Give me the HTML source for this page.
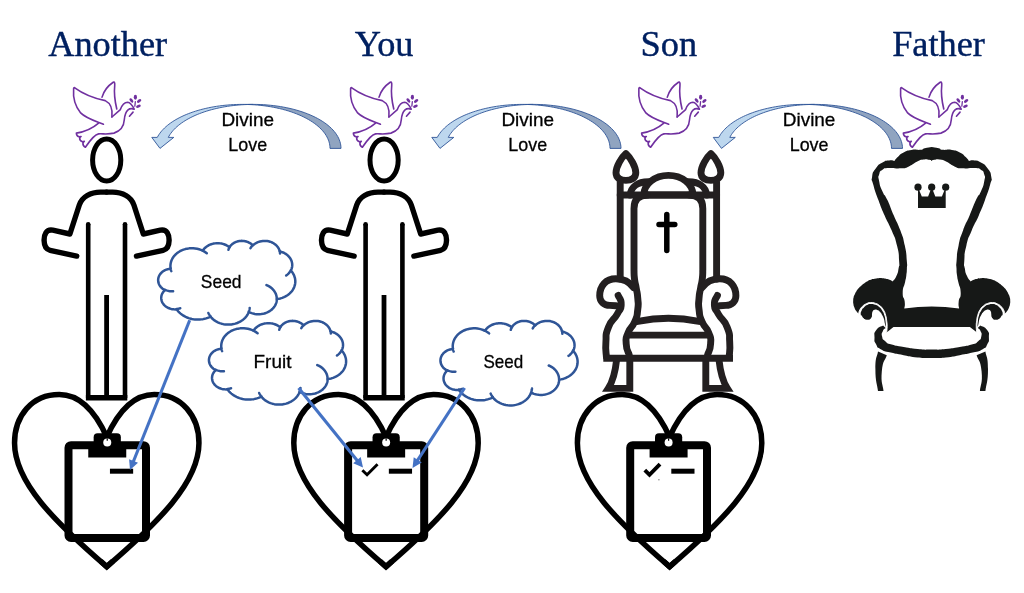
<!DOCTYPE html>
<html><head><meta charset="utf-8"><title>Divine Love</title>
<style>
html,body{margin:0;padding:0;background:#fff;}
body{width:1024px;height:593px;overflow:hidden;}
svg{display:block;}
</style></head><body>
<svg width="1024" height="593" viewBox="0 0 1024 593" style="will-change:transform">
<rect width="1024" height="593" fill="#fff"/>
<g fill="none" stroke="#000000" stroke-width="5.4" stroke-linecap="round" stroke-linejoin="round">
<ellipse cx="106.69999999999999" cy="160" rx="14.1" ry="21.1" stroke-width="5"/>
<path d="M106.6,192.1 H112.6 C122.6,192.1 131.2,196.8 133.9,205 L143.3,234 L160.39999999999998,230.2 C167.1,229 169.2,234.5 169.1,240.5 C169.0,246 167.1,249.4 163.1,250.3 L136.5,256.1"/>
<path d="M106.6,192.1 H100.6 C90.6,192.1 82.0,196.8 79.3,205 L69.89999999999999,234 L52.8,230.2 C46.099999999999994,229 43.99999999999999,234.5 44.099999999999994,240.5 C44.199999999999996,246 46.099999999999994,249.4 50.099999999999994,250.3 L76.69999999999999,256.1"/>
</g>
<g fill="none" stroke="#000000" stroke-width="4.6" stroke-linecap="butt">
<path d="M88.19999999999999,224 V398 M125.0,224 V398"/>
<path d="M88.19999999999999,224.2 v0.1 M125.0,224.2 v0.1" stroke-linecap="round"/>
<path d="M106.6,295 V398" stroke-width="4.8"/>
<path d="M85.89999999999999,397.8 H127.3" stroke-width="5.4"/>
</g>
<g fill="none" stroke="#000000" stroke-width="5.4" stroke-linecap="round" stroke-linejoin="round">
<ellipse cx="384.1" cy="160" rx="14.1" ry="21.1" stroke-width="5"/>
<path d="M384.0,192.1 H390.0 C400.0,192.1 408.6,196.8 411.3,205 L420.7,234 L437.8,230.2 C444.5,229 446.6,234.5 446.5,240.5 C446.4,246 444.5,249.4 440.5,250.3 L413.9,256.1"/>
<path d="M384.0,192.1 H378.0 C368.0,192.1 359.4,196.8 356.7,205 L347.3,234 L330.2,230.2 C323.5,229 321.4,234.5 321.5,240.5 C321.6,246 323.5,249.4 327.5,250.3 L354.1,256.1"/>
</g>
<g fill="none" stroke="#000000" stroke-width="4.6" stroke-linecap="butt">
<path d="M365.6,224 V398 M402.4,224 V398"/>
<path d="M365.6,224.2 v0.1 M402.4,224.2 v0.1" stroke-linecap="round"/>
<path d="M384.0,295 V398" stroke-width="4.8"/>
<path d="M363.3,397.8 H404.7" stroke-width="5.4"/>
</g>
<path d="M106.75,437 C115.75,417 130.75,394.5 154.25,394.5 C181.75,394.5 198.95,416 198.95,443 C198.95,482 158.75,522 106.75,566.7 M106.75,437 C97.75,417 82.75,394.5 59.25,394.5 C31.75,394.5 14.549999999999997,416 14.549999999999997,443 C14.549999999999997,482 54.75,522 106.75,566.7" fill="none" stroke="#000000" stroke-width="5.5" stroke-linejoin="miter" stroke-linecap="round"/>
<path d="M100.75,561.2 L106.75,566.7 L112.75,561.2" fill="none" stroke="#000000" stroke-width="5.5" stroke-linejoin="miter" stroke-miterlimit="10"/>
<path d="M386.0,437 C395.0,417 410.0,394.5 433.5,394.5 C461.0,394.5 478.2,416 478.2,443 C478.2,482 438.0,522 386.0,566.7 M386.0,437 C377.0,417 362.0,394.5 338.5,394.5 C311.0,394.5 293.8,416 293.8,443 C293.8,482 334.0,522 386.0,566.7" fill="none" stroke="#000000" stroke-width="5.5" stroke-linejoin="miter" stroke-linecap="round"/>
<path d="M380.0,561.2 L386.0,566.7 L392.0,561.2" fill="none" stroke="#000000" stroke-width="5.5" stroke-linejoin="miter" stroke-miterlimit="10"/>
<path d="M669.6,437 C678.6,417 693.6,394.5 717.1,394.5 C744.6,394.5 761.8000000000001,416 761.8000000000001,443 C761.8000000000001,482 721.6,522 669.6,566.7 M669.6,437 C660.6,417 645.6,394.5 622.1,394.5 C594.6,394.5 577.4,416 577.4,443 C577.4,482 617.6,522 669.6,566.7" fill="none" stroke="#000000" stroke-width="5.5" stroke-linejoin="miter" stroke-linecap="round"/>
<path d="M663.6,561.2 L669.6,566.7 L675.6,561.2" fill="none" stroke="#000000" stroke-width="5.5" stroke-linejoin="miter" stroke-miterlimit="10"/>
<g fill="none" stroke="#231f20" stroke-width="6.9" stroke-linejoin="round" stroke-linecap="round">
<path d="M630.1,195 C630.9,187 637.4,181.8 648.4,181.8 H688.4 C699.4,181.8 705.9,187 706.6999999999999,195"/>
<path d="M643.8,195 A24.6 19.6 0 0 1 693.0,195 Z" fill="#fff"/>
<path d="M620.1999999999999,195 H716.6"/>
<path d="M625.9,153.6 C630.4,157.5 635.8,166.5 635.8,172.8 C635.8,178.2 631.4,180.4 625.9,180.4 C620.4,180.4 616.0,178.2 616.0,172.8 C616.0,166.5 621.4,157.5 625.9,153.6 Z"/>
<path d="M620.1999999999999,182 V279"/>
<path d="M647.40,195 Q634.00,195 634.00,208.5 V270 L634.00,270.00 C634.17,273.00 633.77,273.00 634.50,279.00 C635.23,285.00 635.10,281.50 636.20,288.00 C637.30,294.50 637.30,291.17 637.80,298.50 C638.30,305.83 638.70,302.33 637.70,310.00 C636.70,317.67 637.97,313.97 634.80,321.50 C631.63,329.03 631.07,325.17 628.20,332.60 C625.33,340.03 625.87,336.33 626.20,343.80 C626.53,351.27 628.20,351.27 629.20,355.00 "/>
<path d="M633.40,287.5 C628.80,281 622.80,278.8 615.80,278.8 C605.80,278.8 599.70,286 599.70,295.8 C599.70,301.5 603.80,305.4 609.80,305.4 L615.80,305.8"/>
<path d="M618.10,295.40 C619.13,298.47 621.50,298.37 621.20,304.60 C620.90,310.83 621.43,306.60 617.20,314.10 C612.97,321.60 612.27,317.83 608.50,327.10 C604.73,336.37 606.60,331.93 605.90,341.90 C605.20,351.87 606.23,351.97 606.40,357.00 "/>
<path d="M629.80,358.2 V388.4 H608.30 C612.40,382 615.20,373 616.60,360" stroke-linejoin="miter"/>
<path d="M710.9,153.6 C715.4,157.5 720.8,166.5 720.8,172.8 C720.8,178.2 716.4,180.4 710.9,180.4 C705.4,180.4 701.0,178.2 701.0,172.8 C701.0,166.5 706.4,157.5 710.9,153.6 Z"/>
<path d="M716.6,182 V279"/>
<path d="M689.40,195 Q702.80,195 702.80,208.5 V270 L702.80,270.00 C702.63,273.00 703.03,273.00 702.30,279.00 C701.57,285.00 701.70,281.50 700.60,288.00 C699.50,294.50 699.50,291.17 699.00,298.50 C698.50,305.83 698.10,302.33 699.10,310.00 C700.10,317.67 698.83,313.97 702.00,321.50 C705.17,329.03 705.73,325.17 708.60,332.60 C711.47,340.03 710.93,336.33 710.60,343.80 C710.27,351.27 708.60,351.27 707.60,355.00 "/>
<path d="M702.20,287.5 C706.80,281 712.80,278.8 719.80,278.8 C729.80,278.8 735.90,286 735.90,295.8 C735.90,301.5 731.80,305.4 725.80,305.4 L719.80,305.8"/>
<path d="M717.50,295.40 C716.47,298.47 714.10,298.37 714.40,304.60 C714.70,310.83 714.17,306.60 718.40,314.10 C722.63,321.60 723.33,317.83 727.10,327.10 C730.87,336.37 729.00,331.93 729.70,341.90 C730.40,351.87 729.37,351.97 729.20,357.00 "/>
<path d="M705.80,358.2 V388.4 H727.30 C723.20,382 720.40,373 719.00,360" stroke-linejoin="miter"/>
<path d="M637.8,321.4 Q668.4,315.2 699.0,321.4"/>
<path d="M628.6,335.1 H708.1999999999999"/>
<path d="M603.3,358.2 H733.0" stroke-linecap="butt"/>
</g>
<path d="M666.8,214.6 V250.5 M659.0,224.4 H674.8" fill="none" stroke="#000" stroke-width="5.5" stroke-linecap="round"/>
<path d="M931.70,146.90 L931.70,146.90 C934.03,147.33 935.07,147.23 938.70,148.20 C942.33,149.17 938.20,149.23 942.60,149.80 C947.00,150.37 946.17,149.00 951.90,149.90 C957.63,150.80 955.20,150.10 959.80,152.50 C964.40,154.90 962.63,154.23 965.70,157.10 C968.77,159.97 967.90,159.77 969.00,161.10 L969.00,161.10 C970.77,160.87 970.33,159.97 974.30,160.40 C978.27,160.83 976.50,159.77 980.90,162.40 C985.30,165.03 984.03,163.47 987.50,168.30 C990.97,173.13 990.43,171.40 991.30,176.90 C992.17,182.40 992.20,177.10 990.10,184.80 C988.00,192.50 988.73,189.87 985.00,200.00 C981.27,210.13 983.30,205.10 978.90,215.20 C974.50,225.30 975.97,220.20 971.80,230.30 C967.63,240.40 968.90,235.37 966.40,245.50 C963.90,255.63 964.83,253.10 964.30,260.70 C963.77,268.30 963.93,263.27 964.80,268.30 C965.67,273.33 964.97,271.43 966.90,275.80 C968.83,280.17 969.37,279.53 970.60,281.40 L970.60,281.40 C971.70,280.87 971.60,280.67 973.90,279.80 C976.20,278.93 975.07,279.30 977.50,278.80 C979.93,278.30 978.70,278.50 981.20,278.30 C983.70,278.10 982.43,278.03 985.00,278.20 C987.57,278.37 986.37,278.27 988.90,278.80 C991.43,279.33 990.30,279.00 992.60,279.80 C994.90,280.60 993.77,280.17 995.80,281.20 C997.83,282.23 996.67,281.50 998.70,282.90 C1000.73,284.30 999.87,283.63 1001.90,285.40 C1003.93,287.17 1003.10,286.27 1004.80,288.20 C1006.50,290.13 1005.73,289.17 1007.00,291.20 C1008.27,293.23 1007.67,292.23 1008.60,294.30 C1009.53,296.37 1009.27,295.37 1009.80,297.40 C1010.33,299.43 1010.13,298.20 1010.20,300.40 C1010.27,302.60 1010.37,301.73 1010.00,304.00 C1009.63,306.27 1010.00,304.93 1009.10,307.20 C1008.20,309.47 1008.73,308.63 1007.30,310.80 C1005.87,312.97 1005.63,312.73 1004.80,313.70 L1004.80,313.70 C1004.39,312.40 1004.83,312.23 1003.56,309.80 C1002.29,307.37 1003.10,308.40 1000.98,306.40 C998.86,304.40 999.97,305.07 997.19,303.80 C994.41,302.53 995.77,302.73 992.63,302.60 C989.49,302.47 990.81,302.33 987.78,303.40 C984.75,304.47 986.11,303.67 983.53,305.80 C980.95,307.93 981.96,306.67 980.04,309.80 C978.12,312.93 978.87,311.53 977.76,315.20 C976.65,318.87 977.21,317.13 976.70,320.80 C976.19,324.47 976.24,322.40 976.24,326.20 C976.24,330.00 976.55,330.20 976.70,332.20 L969.90,326.90 L893.50,326.90 L886.60,332.40 L886.70,332.20 C886.85,330.20 887.16,330.00 887.16,326.20 C887.16,322.40 887.21,324.47 886.70,320.80 C886.19,317.13 886.75,318.87 885.64,315.20 C884.53,311.53 885.28,312.93 883.36,309.80 C881.44,306.67 882.45,307.93 879.87,305.80 C877.29,303.67 878.65,304.47 875.62,303.40 C872.59,302.33 873.91,302.47 870.77,302.60 C867.63,302.73 868.99,302.53 866.21,303.80 C863.43,305.07 864.54,304.40 862.42,306.40 C860.30,308.40 861.11,307.37 859.84,309.80 C858.57,312.23 859.01,312.40 858.60,313.70 L858.60,313.70 C857.77,312.73 857.53,312.97 856.10,310.80 C854.67,308.63 855.20,309.47 854.30,307.20 C853.40,304.93 853.77,306.27 853.40,304.00 C853.03,301.73 853.13,302.60 853.20,300.40 C853.27,298.20 853.07,299.43 853.60,297.40 C854.13,295.37 853.87,296.37 854.80,294.30 C855.73,292.23 855.13,293.23 856.40,291.20 C857.67,289.17 856.90,290.13 858.60,288.20 C860.30,286.27 859.47,287.17 861.50,285.40 C863.53,283.63 862.67,284.30 864.70,282.90 C866.73,281.50 865.57,282.23 867.60,281.20 C869.63,280.17 868.50,280.60 870.80,279.80 C873.10,279.00 871.97,279.33 874.50,278.80 C877.03,278.27 875.83,278.37 878.40,278.20 C880.97,278.03 879.70,278.10 882.20,278.30 C884.70,278.50 883.47,278.30 885.90,278.80 C888.33,279.30 887.20,278.93 889.50,279.80 C891.80,280.67 891.70,280.87 892.80,281.40 L892.80,281.40 C894.03,279.53 894.57,280.17 896.50,275.80 C898.43,271.43 897.73,273.33 898.60,268.30 C899.47,263.27 899.63,268.30 899.10,260.70 C898.57,253.10 899.50,255.63 897.00,245.50 C894.50,235.37 895.77,240.40 891.60,230.30 C887.43,220.20 888.90,225.30 884.50,215.20 C880.10,205.10 882.13,210.13 878.40,200.00 C874.67,189.87 875.40,192.50 873.30,184.80 C871.20,177.10 871.23,182.40 872.10,176.90 C872.97,171.40 872.43,173.13 875.90,168.30 C879.37,163.47 878.10,165.03 882.50,162.40 C886.90,159.77 885.13,160.83 889.10,160.40 C893.07,159.97 892.63,160.87 894.40,161.10 L894.40,161.10 C895.50,159.77 894.63,159.97 897.70,157.10 C900.77,154.23 899.00,154.90 903.60,152.50 C908.20,150.10 905.77,150.80 911.50,149.90 C917.23,149.00 916.40,150.37 920.80,149.80 C925.20,149.23 921.07,149.17 924.70,148.20 C928.33,147.23 929.37,147.33 931.70,146.90 Z" fill="#161817"/>
<path d="M1004.80,313.70 C1004.39,312.40 1004.83,312.23 1003.56,309.80 C1002.29,307.37 1003.10,308.40 1000.98,306.40 C998.86,304.40 999.97,305.07 997.19,303.80 C994.41,302.53 995.77,302.73 992.63,302.60 C989.49,302.47 990.81,302.33 987.78,303.40 C984.75,304.47 986.11,303.67 983.53,305.80 C980.95,307.93 981.96,306.67 980.04,309.80 C978.12,312.93 978.87,311.53 977.76,315.20 C976.65,318.87 977.21,317.13 976.70,320.80 C976.19,324.47 976.24,322.40 976.24,326.20 C976.24,330.00 976.55,330.20 976.70,332.20 " fill="none" stroke="#fff" stroke-width="0.9"/>
<path d="M886.70,332.20 C886.85,330.20 887.16,330.00 887.16,326.20 C887.16,322.40 887.21,324.47 886.70,320.80 C886.19,317.13 886.75,318.87 885.64,315.20 C884.53,311.53 885.28,312.93 883.36,309.80 C881.44,306.67 882.45,307.93 879.87,305.80 C877.29,303.67 878.65,304.47 875.62,303.40 C872.59,302.33 873.91,302.47 870.77,302.60 C867.63,302.73 868.99,302.53 866.21,303.80 C863.43,305.07 864.54,304.40 862.42,306.40 C860.30,308.40 861.11,307.37 859.84,309.80 C858.57,312.23 859.01,312.40 858.60,313.70 " fill="none" stroke="#fff" stroke-width="0.9"/>
<path d="M931.70,161.10 L931.70,161.10 C932.50,160.67 931.33,160.33 934.10,159.80 C936.87,159.27 935.83,158.83 940.00,159.50 C944.17,160.17 941.77,159.50 946.60,161.80 C951.43,164.10 949.23,164.23 954.50,166.40 C959.77,168.57 955.80,167.77 962.40,168.30 C969.00,168.83 968.13,167.53 974.30,168.00 C980.47,168.47 977.60,167.60 980.90,169.70 C984.20,171.80 983.07,170.57 984.20,174.30 C985.33,178.03 985.40,175.20 984.30,180.90 C983.20,186.60 983.67,185.03 980.90,191.40 C978.13,197.77 979.73,192.07 976.00,200.00 C972.27,207.93 974.00,205.10 969.70,215.20 C965.40,225.30 966.80,220.20 963.10,230.30 C959.40,240.40 960.77,235.37 958.60,245.50 C956.43,255.63 957.30,253.10 956.60,260.70 C955.90,268.30 956.33,263.27 956.50,268.30 C956.67,273.33 956.50,271.23 957.10,275.80 C957.70,280.37 957.10,276.33 958.30,282.00 C959.50,287.67 960.57,286.30 960.70,292.80 C960.83,299.30 959.23,296.23 958.70,301.50 C958.17,306.77 958.97,306.23 959.10,308.60 Q931.70,304.20 904.30,308.60 L904.30,308.60 C904.43,306.23 905.23,306.77 904.70,301.50 C904.17,296.23 902.57,299.30 902.70,292.80 C902.83,286.30 903.90,287.67 905.10,282.00 C906.30,276.33 905.70,280.37 906.30,275.80 C906.90,271.23 906.73,273.33 906.90,268.30 C907.07,263.27 907.50,268.30 906.80,260.70 C906.10,253.10 906.97,255.63 904.80,245.50 C902.63,235.37 904.00,240.40 900.30,230.30 C896.60,220.20 898.00,225.30 893.70,215.20 C889.40,205.10 891.13,207.93 887.40,200.00 C883.67,192.07 885.27,197.77 882.50,191.40 C879.73,185.03 880.20,186.60 879.10,180.90 C878.00,175.20 878.07,178.03 879.20,174.30 C880.33,170.57 879.20,171.80 882.50,169.70 C885.80,167.60 882.93,168.47 889.10,168.00 C895.27,167.53 894.40,168.83 901.00,168.30 C907.60,167.77 903.63,168.57 908.90,166.40 C914.17,164.23 911.97,164.10 916.80,161.80 C921.63,159.50 919.23,160.17 923.40,159.50 C927.57,158.83 926.53,159.27 929.30,159.80 C932.07,160.33 930.90,160.67 931.70,161.10 Z" fill="#fff"/>
<path d="M860.75,314.30 C860.65,312.43 860.60,312.67 861.66,310.40 C862.72,308.13 862.12,309.27 863.94,307.50 C865.76,305.73 864.84,306.27 867.12,305.10 C869.40,303.93 868.04,304.10 870.77,304.00 C873.50,303.90 872.54,303.80 875.32,304.80 C878.10,305.80 876.78,305.03 879.11,307.00 C881.44,308.97 880.53,307.87 882.30,310.70 C884.07,313.53 883.36,312.07 884.42,315.50 C885.48,318.93 885.03,317.33 885.49,321.00 C885.95,324.67 885.99,325.70 885.79,326.50 C885.59,327.30 885.54,326.03 884.88,323.40 C884.22,320.77 884.73,321.43 883.82,318.60 C882.91,315.77 883.47,317.20 882.15,314.90 C880.83,312.60 881.49,313.37 879.87,311.70 C878.25,310.03 879.06,310.53 877.29,309.90 C875.52,309.27 876.08,309.33 874.56,309.80 C873.04,310.27 873.60,309.90 872.74,311.30 C871.88,312.70 872.64,311.67 871.98,314.00 C871.32,316.33 872.34,316.43 870.77,318.30 C869.20,320.17 869.59,319.60 867.27,319.60 C864.95,319.60 865.57,319.50 863.80,318.30 C862.03,317.10 862.98,317.33 861.96,316.00 C860.94,314.67 860.85,316.17 860.75,314.30 Z" fill="#161817"/>
<circle cx="867.27" cy="314.9" r="4.7" fill="#161817"/>
<path d="M878.00,351.40 C877.13,357.27 875.40,355.80 875.40,369.00 C875.40,382.20 877.13,383.67 878.00,391.00  L883.50,391 L883.50,391.00 C882.93,384.50 880.70,383.43 881.80,371.50 C882.90,359.57 885.13,360.63 886.80,355.20  Z" fill="#161817"/>
<path d="M1002.65,314.30 C1002.75,312.43 1002.80,312.67 1001.74,310.40 C1000.68,308.13 1001.28,309.27 999.46,307.50 C997.64,305.73 998.56,306.27 996.28,305.10 C994.00,303.93 995.36,304.10 992.63,304.00 C989.90,303.90 990.86,303.80 988.08,304.80 C985.30,305.80 986.62,305.03 984.29,307.00 C981.96,308.97 982.87,307.87 981.10,310.70 C979.33,313.53 980.04,312.07 978.98,315.50 C977.92,318.93 978.37,317.33 977.91,321.00 C977.45,324.67 977.41,325.70 977.61,326.50 C977.81,327.30 977.86,326.03 978.52,323.40 C979.18,320.77 978.67,321.43 979.58,318.60 C980.49,315.77 979.93,317.20 981.25,314.90 C982.57,312.60 981.91,313.37 983.53,311.70 C985.15,310.03 984.34,310.53 986.11,309.90 C987.88,309.27 987.32,309.33 988.84,309.80 C990.36,310.27 989.80,309.90 990.66,311.30 C991.52,312.70 990.76,311.67 991.42,314.00 C992.08,316.33 991.06,316.43 992.63,318.30 C994.20,320.17 993.81,319.60 996.13,319.60 C998.45,319.60 997.83,319.50 999.60,318.30 C1001.37,317.10 1000.42,317.33 1001.44,316.00 C1002.46,314.67 1002.55,316.17 1002.65,314.30 Z" fill="#161817"/>
<circle cx="996.1300000000001" cy="314.9" r="4.7" fill="#161817"/>
<path d="M985.40,351.40 C986.27,357.27 988.00,355.80 988.00,369.00 C988.00,382.20 986.27,383.67 985.40,391.00  L979.90,391 L979.90,391.00 C980.47,384.50 982.70,383.43 981.60,371.50 C980.50,359.57 978.27,360.63 976.60,355.20  Z" fill="#161817"/>
<path d="M980.30,325.60 L980.30,325.60 C982.57,327.07 984.23,326.03 987.10,330.00 C989.97,333.97 988.83,332.73 988.90,337.50 C988.97,342.27 989.37,340.40 987.30,344.30 C985.23,348.20 987.57,346.43 982.70,349.20 C977.83,351.97 980.37,350.60 972.70,352.60 C965.03,354.60 968.70,353.60 959.70,355.20 C950.70,356.80 955.03,356.47 945.70,357.40 C936.37,358.33 941.03,358.00 931.70,358.00 C922.37,358.00 927.03,358.33 917.70,357.40 C908.37,356.47 912.70,356.80 903.70,355.20 C894.70,353.60 898.37,354.60 890.70,352.60 C883.03,350.60 885.57,351.97 880.70,349.20 C875.83,346.43 878.17,348.20 876.10,344.30 C874.03,340.40 874.43,342.27 874.50,337.50 C874.57,332.73 873.43,333.97 876.30,330.00 C879.17,326.03 880.83,327.07 883.10,325.60 L885.70,328.00 C884.77,329.00 884.10,328.17 882.90,331.00 C881.70,333.83 881.33,333.10 882.10,336.50 C882.87,339.90 882.00,338.50 885.20,341.20 C888.40,343.90 885.53,342.67 891.70,344.60 C897.87,346.53 895.03,345.53 903.70,347.00 C912.37,348.47 908.37,348.13 917.70,349.00 C927.03,349.87 922.37,349.60 931.70,349.60 C941.03,349.60 936.37,349.87 945.70,349.00 C955.03,348.13 951.03,348.47 959.70,347.00 C968.37,345.53 965.53,346.53 971.70,344.60 C977.87,342.67 975.00,343.90 978.20,341.20 C981.40,338.50 980.53,339.90 981.30,336.50 C982.07,333.10 981.70,333.83 980.50,331.00 C979.30,328.17 978.63,329.00 977.70,328.00 Z" fill="#161817"/>
<path d="M918.0,207.9 V187.2 L921.8,196.4 H928.1 L931.7,187.2 L935.3000000000001,196.4 H941.9000000000001 L945.7,187.2 V207.9 Z" fill="#161817"/>
<circle cx="918.0" cy="187.2" r="3.6" fill="#161817"/>
<circle cx="931.7" cy="187.2" r="3.6" fill="#161817"/>
<circle cx="945.7" cy="187.2" r="3.6" fill="#161817"/>
<rect x="68.5" y="445.2" width="77.5" height="92.80000000000001" rx="2.5" fill="none" stroke="#000000" stroke-width="8"/>
<path d="M88.25,443.2 H126.25 V457.4 H88.25 Z" fill="#000000"/>
<path d="M93.65,447.2 V437.2 Q93.65,433.2 97.65,433.2 H116.85 Q120.85,433.2 120.85,437.2 V447.2 Z" fill="#000000"/>
<circle cx="107.25" cy="442.5" r="4" fill="#fff"/>
<path d="M106.65,438.59999999999997 v2.2 h1.2 v-2.2 z" fill="#000000"/>
<rect x="109.95" y="468.7" width="23.2" height="5" fill="#000000"/>
<rect x="348.1" y="445.2" width="76.09999999999997" height="92.80000000000001" rx="2.5" fill="none" stroke="#000000" stroke-width="8"/>
<path d="M367.15,443.2 H405.15 V457.4 H367.15 Z" fill="#000000"/>
<path d="M372.54999999999995,447.2 V437.2 Q372.54999999999995,433.2 376.54999999999995,433.2 H395.75 Q399.75,433.2 399.75,437.2 V447.2 Z" fill="#000000"/>
<circle cx="386.15" cy="442.5" r="4" fill="#fff"/>
<path d="M385.54999999999995,438.59999999999997 v2.2 h1.2 v-2.2 z" fill="#000000"/>
<rect x="388.84999999999997" y="468.7" width="23.2" height="5" fill="#000000"/>
<path d="M362.34999999999997,470.2 L367.04999999999995,474.8 L377.54999999999995,464.2" fill="none" stroke="#000000" stroke-width="2.9"/>
<rect x="630.2" y="445.2" width="76.79999999999995" height="92.80000000000001" rx="2.5" fill="none" stroke="#000000" stroke-width="8"/>
<path d="M649.6,443.2 H687.6 V457.4 H649.6 Z" fill="#000000"/>
<path d="M655.0,447.2 V437.2 Q655.0,433.2 659.0,433.2 H678.2 Q682.2,433.2 682.2,437.2 V447.2 Z" fill="#000000"/>
<circle cx="668.6" cy="442.5" r="4" fill="#fff"/>
<path d="M668.0,438.59999999999997 v2.2 h1.2 v-2.2 z" fill="#000000"/>
<rect x="671.3000000000001" y="468.7" width="23.2" height="5" fill="#000000"/>
<path d="M644.8000000000001,470.2 L649.5,474.8 L660.0,464.2" fill="none" stroke="#000000" stroke-width="3.9"/>
<circle cx="658.9" cy="479.8" r="0.8" fill="#8a8a8a"/>
<g transform="translate(64,76) scale(0.12809)" fill="none" stroke="#7030a0" stroke-width="12.5" stroke-linecap="round" stroke-linejoin="round">
<path d="M374,320 C380,270 368,215 322,192 C240,175 150,140 84,92 C78,88 75,92 75,100 C70,160 84,232 130,288 C170,330 240,350 308,376.4"/>
<path d="M297,165 C310,120 350,72 384,49 C393,44 398,52 396,72 C390,130 398,200 412,258"/>
<path d="M374,320 L440,262 C452,228 472,205 497,205 C518,206 532,226 548,259 C530,252 512,254 500,264 C482,280 474,305 471,340 C468,392 440,430 390,446 C340,458 300,449 270,452 C236,458 205,500 166.9,556.3 C152,548 146,532 148,519.6 L158.5,510.4 L143.8,513.3 C128,508 121,492 122.7,481.7 L133.2,472.4 L116.4,474.5 C103,470 97,455 96.6,446 C160,436 222,410 270,368"/>
<path d="M511,314 L539,282"/>
<path d="M557,200 L553,236" stroke-width="10"/>
<g fill="#7030a0" stroke="none">
<ellipse cx="557.4" cy="165" rx="12.5" ry="19.5"/>
<ellipse cx="526" cy="191" rx="11" ry="19.5" transform="rotate(-40 526 191)"/>
<ellipse cx="586.5" cy="194.5" rx="11" ry="19.5" transform="rotate(52 586.5 194.5)"/>
<ellipse cx="581" cy="236.5" rx="10.5" ry="19.5" transform="rotate(65 581 236.5)"/>
</g>
</g>
<g transform="translate(341,76) scale(0.12809)" fill="none" stroke="#7030a0" stroke-width="12.5" stroke-linecap="round" stroke-linejoin="round">
<path d="M374,320 C380,270 368,215 322,192 C240,175 150,140 84,92 C78,88 75,92 75,100 C70,160 84,232 130,288 C170,330 240,350 308,376.4"/>
<path d="M297,165 C310,120 350,72 384,49 C393,44 398,52 396,72 C390,130 398,200 412,258"/>
<path d="M374,320 L440,262 C452,228 472,205 497,205 C518,206 532,226 548,259 C530,252 512,254 500,264 C482,280 474,305 471,340 C468,392 440,430 390,446 C340,458 300,449 270,452 C236,458 205,500 166.9,556.3 C152,548 146,532 148,519.6 L158.5,510.4 L143.8,513.3 C128,508 121,492 122.7,481.7 L133.2,472.4 L116.4,474.5 C103,470 97,455 96.6,446 C160,436 222,410 270,368"/>
<path d="M511,314 L539,282"/>
<path d="M557,200 L553,236" stroke-width="10"/>
<g fill="#7030a0" stroke="none">
<ellipse cx="557.4" cy="165" rx="12.5" ry="19.5"/>
<ellipse cx="526" cy="191" rx="11" ry="19.5" transform="rotate(-40 526 191)"/>
<ellipse cx="586.5" cy="194.5" rx="11" ry="19.5" transform="rotate(52 586.5 194.5)"/>
<ellipse cx="581" cy="236.5" rx="10.5" ry="19.5" transform="rotate(65 581 236.5)"/>
</g>
</g>
<g transform="translate(629.25,76) scale(0.12809)" fill="none" stroke="#7030a0" stroke-width="12.5" stroke-linecap="round" stroke-linejoin="round">
<path d="M374,320 C380,270 368,215 322,192 C240,175 150,140 84,92 C78,88 75,92 75,100 C70,160 84,232 130,288 C170,330 240,350 308,376.4"/>
<path d="M297,165 C310,120 350,72 384,49 C393,44 398,52 396,72 C390,130 398,200 412,258"/>
<path d="M374,320 L440,262 C452,228 472,205 497,205 C518,206 532,226 548,259 C530,252 512,254 500,264 C482,280 474,305 471,340 C468,392 440,430 390,446 C340,458 300,449 270,452 C236,458 205,500 166.9,556.3 C152,548 146,532 148,519.6 L158.5,510.4 L143.8,513.3 C128,508 121,492 122.7,481.7 L133.2,472.4 L116.4,474.5 C103,470 97,455 96.6,446 C160,436 222,410 270,368"/>
<path d="M511,314 L539,282"/>
<path d="M557,200 L553,236" stroke-width="10"/>
<g fill="#7030a0" stroke="none">
<ellipse cx="557.4" cy="165" rx="12.5" ry="19.5"/>
<ellipse cx="526" cy="191" rx="11" ry="19.5" transform="rotate(-40 526 191)"/>
<ellipse cx="586.5" cy="194.5" rx="11" ry="19.5" transform="rotate(52 586.5 194.5)"/>
<ellipse cx="581" cy="236.5" rx="10.5" ry="19.5" transform="rotate(65 581 236.5)"/>
</g>
</g>
<g transform="translate(891,76) scale(0.12809)" fill="none" stroke="#7030a0" stroke-width="12.5" stroke-linecap="round" stroke-linejoin="round">
<path d="M374,320 C380,270 368,215 322,192 C240,175 150,140 84,92 C78,88 75,92 75,100 C70,160 84,232 130,288 C170,330 240,350 308,376.4"/>
<path d="M297,165 C310,120 350,72 384,49 C393,44 398,52 396,72 C390,130 398,200 412,258"/>
<path d="M374,320 L440,262 C452,228 472,205 497,205 C518,206 532,226 548,259 C530,252 512,254 500,264 C482,280 474,305 471,340 C468,392 440,430 390,446 C340,458 300,449 270,452 C236,458 205,500 166.9,556.3 C152,548 146,532 148,519.6 L158.5,510.4 L143.8,513.3 C128,508 121,492 122.7,481.7 L133.2,472.4 L116.4,474.5 C103,470 97,455 96.6,446 C160,436 222,410 270,368"/>
<path d="M511,314 L539,282"/>
<path d="M557,200 L553,236" stroke-width="10"/>
<g fill="#7030a0" stroke="none">
<ellipse cx="557.4" cy="165" rx="12.5" ry="19.5"/>
<ellipse cx="526" cy="191" rx="11" ry="19.5" transform="rotate(-40 526 191)"/>
<ellipse cx="586.5" cy="194.5" rx="11" ry="19.5" transform="rotate(52 586.5 194.5)"/>
<ellipse cx="581" cy="236.5" rx="10.5" ry="19.5" transform="rotate(65 581 236.5)"/>
</g>
</g>
<path d="M247.75,104.49 L251.05,104.62 L254.33,104.82 L257.60,105.08 L260.84,105.40 L264.06,105.78 L267.25,106.22 L270.41,106.73 L273.52,107.29 L276.59,107.91 L279.61,108.59 L282.57,109.32 L285.48,110.11 L288.33,110.95 L291.11,111.85 L293.82,112.80 L296.46,113.80 L299.02,114.85 L301.51,115.95 L303.90,117.09 L306.21,118.28 L308.43,119.51 L310.56,120.78 L312.58,122.09 L314.51,123.44 L316.34,124.82 L318.06,126.24 L319.67,127.69 L321.17,129.17 L322.56,130.67 L323.84,132.20 L325.00,133.75 L326.04,135.33 L326.96,136.92 L327.76,138.53 L328.45,140.15 L329.00,141.79 L329.44,143.43 L329.75,145.09 L329.94,146.74 L330.00,148.40 L341.00,148.40 L341.00,148.40 L340.93,146.60 L340.71,144.81 L340.34,143.02 L339.83,141.24 L339.18,139.48 L338.38,137.73 L337.44,135.99 L336.36,134.28 L335.14,132.59 L333.78,130.93 L332.29,129.29 L330.67,127.69 L328.92,126.12 L327.04,124.59 L325.04,123.10 L322.93,121.65 L320.69,120.25 L318.34,118.89 L315.88,117.58 L313.32,116.33 L310.66,115.12 L307.90,113.98 L305.06,112.89 L302.12,111.86 L299.10,110.89 L296.01,109.98 L292.85,109.13 L289.62,108.36 L286.33,107.65 L282.98,107.00 L279.59,106.43 L276.15,105.92 L272.67,105.49 L269.16,105.13 L265.62,104.84 L262.07,104.62 L258.49,104.48 L254.91,104.41 L251.33,104.41 L247.75,104.49 Z" fill="#90a4c0" stroke="none"/>
<path d="M160.00,148.40 L173.79,137.40 L168.29,137.40 L168.29,137.40 L169.06,136.00 L169.92,134.62 L170.87,133.25 L171.91,131.90 L173.04,130.56 L174.25,129.25 L175.55,127.95 L176.94,126.68 L178.41,125.43 L179.96,124.21 L181.59,123.01 L183.29,121.84 L185.08,120.70 L186.93,119.59 L188.86,118.51 L190.86,117.46 L192.93,116.44 L195.06,115.46 L197.26,114.52 L199.51,113.61 L201.83,112.75 L204.20,111.92 L206.62,111.13 L209.10,110.38 L211.62,109.67 L214.19,109.00 L216.80,108.38 L219.45,107.80 L222.13,107.26 L224.85,106.77 L227.61,106.32 L230.38,105.92 L233.19,105.57 L236.01,105.26 L238.86,105.00 L241.72,104.78 L244.59,104.61 L247.47,104.50 L250.36,104.42 L253.25,104.40 L242.25,104.40 L242.25,104.40 L239.36,104.42 L236.47,104.50 L233.59,104.61 L230.72,104.78 L227.86,105.00 L225.01,105.26 L222.19,105.57 L219.38,105.92 L216.61,106.32 L213.85,106.77 L211.13,107.26 L208.45,107.80 L205.80,108.38 L203.19,109.00 L200.62,109.67 L198.10,110.38 L195.62,111.13 L193.20,111.92 L190.83,112.75 L188.51,113.61 L186.26,114.52 L184.06,115.46 L181.93,116.44 L179.86,117.46 L177.86,118.51 L175.93,119.59 L174.08,120.70 L172.29,121.84 L170.59,123.01 L168.96,124.21 L167.41,125.43 L165.94,126.68 L164.55,127.95 L163.25,129.25 L162.04,130.56 L160.91,131.90 L159.87,133.25 L158.92,134.62 L158.06,136.00 L157.29,137.40 L151.79,137.40 Z" fill="#bdd7ee" stroke="none"/>
<path d="M247.75,104.49 L251.05,104.62 L254.33,104.82 L257.60,105.08 L260.84,105.40 L264.06,105.78 L267.25,106.22 L270.41,106.73 L273.52,107.29 L276.59,107.91 L279.61,108.59 L282.57,109.32 L285.48,110.11 L288.33,110.95 L291.11,111.85 L293.82,112.80 L296.46,113.80 L299.02,114.85 L301.51,115.95 L303.90,117.09 L306.21,118.28 L308.43,119.51 L310.56,120.78 L312.58,122.09 L314.51,123.44 L316.34,124.82 L318.06,126.24 L319.67,127.69 L321.17,129.17 L322.56,130.67 L323.84,132.20 L325.00,133.75 L326.04,135.33 L326.96,136.92 L327.76,138.53 L328.45,140.15 L329.00,141.79 L329.44,143.43 L329.75,145.09 L329.94,146.74 L330.00,148.40 L341.00,148.40 L341.00,148.40 L340.93,146.67 L340.73,144.95 L340.39,143.23 L339.92,141.52 L339.31,139.82 L338.58,138.13 L337.71,136.46 L336.71,134.80 L335.58,133.17 L334.32,131.56 L332.94,129.98 L331.44,128.42 L329.81,126.90 L328.07,125.41 L326.21,123.95 L324.24,122.54 L322.16,121.16 L319.98,119.82 L317.69,118.53 L315.30,117.29 L312.81,116.09 L310.24,114.94 L307.58,113.85 L304.83,112.80 L302.00,111.82 L299.10,110.88 L296.13,110.01 L293.09,109.20 L289.99,108.44 L286.83,107.75 L283.62,107.12 L280.37,106.55 L277.07,106.05 L273.73,105.62 L270.37,105.25 L266.98,104.94 L263.56,104.70 L260.13,104.54 L256.70,104.43 L253.25,104.40 L242.25,104.40 L242.25,104.40 L239.36,104.42 L236.47,104.50 L233.59,104.61 L230.72,104.78 L227.86,105.00 L225.01,105.26 L222.19,105.57 L219.38,105.92 L216.61,106.32 L213.85,106.77 L211.13,107.26 L208.45,107.80 L205.80,108.38 L203.19,109.00 L200.62,109.67 L198.10,110.38 L195.62,111.13 L193.20,111.92 L190.83,112.75 L188.51,113.61 L186.26,114.52 L184.06,115.46 L181.93,116.44 L179.86,117.46 L177.86,118.51 L175.93,119.59 L174.08,120.70 L172.29,121.84 L170.59,123.01 L168.96,124.21 L167.41,125.43 L165.94,126.68 L164.55,127.95 L163.25,129.25 L162.04,130.56 L160.91,131.90 L159.87,133.25 L158.92,134.62 L158.06,136.00 L157.29,137.40 L151.79,137.40 L160.00,148.40 L173.79,137.40 L168.29,137.40 L168.29,137.40 L169.06,136.00 L169.92,134.62 L170.87,133.25 L171.91,131.90 L173.04,130.56 L174.25,129.25 L175.55,127.95 L176.94,126.68 L178.41,125.43 L179.96,124.21 L181.59,123.01 L183.29,121.84 L185.08,120.70 L186.93,119.59 L188.86,118.51 L190.86,117.46 L192.93,116.44 L195.06,115.46 L197.26,114.52 L199.51,113.61 L201.83,112.75 L204.20,111.92 L206.62,111.13 L209.10,110.38 L211.62,109.67 L214.19,109.00 L216.80,108.38 L219.45,107.80 L222.13,107.26 L224.85,106.77 L227.61,106.32 L230.38,105.92 L233.19,105.57 L236.01,105.26 L238.86,105.00 L241.72,104.78 L244.59,104.61 L247.47,104.50 L250.36,104.42 L253.25,104.40 " fill="none" stroke="#2f5597" stroke-width="0.9" stroke-linejoin="miter"/>
<path d="M527.75,104.49 L531.05,104.62 L534.33,104.82 L537.60,105.08 L540.84,105.40 L544.06,105.78 L547.25,106.22 L550.41,106.73 L553.52,107.29 L556.59,107.91 L559.61,108.59 L562.57,109.32 L565.48,110.11 L568.33,110.95 L571.11,111.85 L573.82,112.80 L576.46,113.80 L579.02,114.85 L581.51,115.95 L583.90,117.09 L586.21,118.28 L588.43,119.51 L590.56,120.78 L592.58,122.09 L594.51,123.44 L596.34,124.82 L598.06,126.24 L599.67,127.69 L601.17,129.17 L602.56,130.67 L603.84,132.20 L605.00,133.75 L606.04,135.33 L606.96,136.92 L607.76,138.53 L608.45,140.15 L609.00,141.79 L609.44,143.43 L609.75,145.09 L609.94,146.74 L610.00,148.40 L621.00,148.40 L621.00,148.40 L620.93,146.60 L620.71,144.81 L620.34,143.02 L619.83,141.24 L619.18,139.48 L618.38,137.73 L617.44,135.99 L616.36,134.28 L615.14,132.59 L613.78,130.93 L612.29,129.29 L610.67,127.69 L608.92,126.12 L607.04,124.59 L605.04,123.10 L602.93,121.65 L600.69,120.25 L598.34,118.89 L595.88,117.58 L593.32,116.33 L590.66,115.12 L587.90,113.98 L585.06,112.89 L582.12,111.86 L579.10,110.89 L576.01,109.98 L572.85,109.13 L569.62,108.36 L566.33,107.65 L562.98,107.00 L559.59,106.43 L556.15,105.92 L552.67,105.49 L549.16,105.13 L545.62,104.84 L542.07,104.62 L538.49,104.48 L534.91,104.41 L531.33,104.41 L527.75,104.49 Z" fill="#90a4c0" stroke="none"/>
<path d="M440.00,148.40 L453.79,137.40 L448.29,137.40 L448.29,137.40 L449.06,136.00 L449.92,134.62 L450.87,133.25 L451.91,131.90 L453.04,130.56 L454.25,129.25 L455.55,127.95 L456.94,126.68 L458.41,125.43 L459.96,124.21 L461.59,123.01 L463.29,121.84 L465.08,120.70 L466.93,119.59 L468.86,118.51 L470.86,117.46 L472.93,116.44 L475.06,115.46 L477.26,114.52 L479.51,113.61 L481.83,112.75 L484.20,111.92 L486.62,111.13 L489.10,110.38 L491.62,109.67 L494.19,109.00 L496.80,108.38 L499.45,107.80 L502.13,107.26 L504.85,106.77 L507.61,106.32 L510.38,105.92 L513.19,105.57 L516.01,105.26 L518.86,105.00 L521.72,104.78 L524.59,104.61 L527.47,104.50 L530.36,104.42 L533.25,104.40 L522.25,104.40 L522.25,104.40 L519.36,104.42 L516.47,104.50 L513.59,104.61 L510.72,104.78 L507.86,105.00 L505.01,105.26 L502.19,105.57 L499.38,105.92 L496.61,106.32 L493.85,106.77 L491.13,107.26 L488.45,107.80 L485.80,108.38 L483.19,109.00 L480.62,109.67 L478.10,110.38 L475.62,111.13 L473.20,111.92 L470.83,112.75 L468.51,113.61 L466.26,114.52 L464.06,115.46 L461.93,116.44 L459.86,117.46 L457.86,118.51 L455.93,119.59 L454.08,120.70 L452.29,121.84 L450.59,123.01 L448.96,124.21 L447.41,125.43 L445.94,126.68 L444.55,127.95 L443.25,129.25 L442.04,130.56 L440.91,131.90 L439.87,133.25 L438.92,134.62 L438.06,136.00 L437.29,137.40 L431.79,137.40 Z" fill="#bdd7ee" stroke="none"/>
<path d="M527.75,104.49 L531.05,104.62 L534.33,104.82 L537.60,105.08 L540.84,105.40 L544.06,105.78 L547.25,106.22 L550.41,106.73 L553.52,107.29 L556.59,107.91 L559.61,108.59 L562.57,109.32 L565.48,110.11 L568.33,110.95 L571.11,111.85 L573.82,112.80 L576.46,113.80 L579.02,114.85 L581.51,115.95 L583.90,117.09 L586.21,118.28 L588.43,119.51 L590.56,120.78 L592.58,122.09 L594.51,123.44 L596.34,124.82 L598.06,126.24 L599.67,127.69 L601.17,129.17 L602.56,130.67 L603.84,132.20 L605.00,133.75 L606.04,135.33 L606.96,136.92 L607.76,138.53 L608.45,140.15 L609.00,141.79 L609.44,143.43 L609.75,145.09 L609.94,146.74 L610.00,148.40 L621.00,148.40 L621.00,148.40 L620.93,146.67 L620.73,144.95 L620.39,143.23 L619.92,141.52 L619.31,139.82 L618.58,138.13 L617.71,136.46 L616.71,134.80 L615.58,133.17 L614.32,131.56 L612.94,129.98 L611.44,128.42 L609.81,126.90 L608.07,125.41 L606.21,123.95 L604.24,122.54 L602.16,121.16 L599.98,119.82 L597.69,118.53 L595.30,117.29 L592.81,116.09 L590.24,114.94 L587.58,113.85 L584.83,112.80 L582.00,111.82 L579.10,110.88 L576.13,110.01 L573.09,109.20 L569.99,108.44 L566.83,107.75 L563.62,107.12 L560.37,106.55 L557.07,106.05 L553.73,105.62 L550.37,105.25 L546.98,104.94 L543.56,104.70 L540.13,104.54 L536.70,104.43 L533.25,104.40 L522.25,104.40 L522.25,104.40 L519.36,104.42 L516.47,104.50 L513.59,104.61 L510.72,104.78 L507.86,105.00 L505.01,105.26 L502.19,105.57 L499.38,105.92 L496.61,106.32 L493.85,106.77 L491.13,107.26 L488.45,107.80 L485.80,108.38 L483.19,109.00 L480.62,109.67 L478.10,110.38 L475.62,111.13 L473.20,111.92 L470.83,112.75 L468.51,113.61 L466.26,114.52 L464.06,115.46 L461.93,116.44 L459.86,117.46 L457.86,118.51 L455.93,119.59 L454.08,120.70 L452.29,121.84 L450.59,123.01 L448.96,124.21 L447.41,125.43 L445.94,126.68 L444.55,127.95 L443.25,129.25 L442.04,130.56 L440.91,131.90 L439.87,133.25 L438.92,134.62 L438.06,136.00 L437.29,137.40 L431.79,137.40 L440.00,148.40 L453.79,137.40 L448.29,137.40 L448.29,137.40 L449.06,136.00 L449.92,134.62 L450.87,133.25 L451.91,131.90 L453.04,130.56 L454.25,129.25 L455.55,127.95 L456.94,126.68 L458.41,125.43 L459.96,124.21 L461.59,123.01 L463.29,121.84 L465.08,120.70 L466.93,119.59 L468.86,118.51 L470.86,117.46 L472.93,116.44 L475.06,115.46 L477.26,114.52 L479.51,113.61 L481.83,112.75 L484.20,111.92 L486.62,111.13 L489.10,110.38 L491.62,109.67 L494.19,109.00 L496.80,108.38 L499.45,107.80 L502.13,107.26 L504.85,106.77 L507.61,106.32 L510.38,105.92 L513.19,105.57 L516.01,105.26 L518.86,105.00 L521.72,104.78 L524.59,104.61 L527.47,104.50 L530.36,104.42 L533.25,104.40 " fill="none" stroke="#2f5597" stroke-width="0.9" stroke-linejoin="miter"/>
<path d="M809.25,104.49 L812.55,104.62 L815.83,104.82 L819.10,105.08 L822.34,105.40 L825.56,105.78 L828.75,106.22 L831.91,106.73 L835.02,107.29 L838.09,107.91 L841.11,108.59 L844.07,109.32 L846.98,110.11 L849.83,110.95 L852.61,111.85 L855.32,112.80 L857.96,113.80 L860.52,114.85 L863.01,115.95 L865.40,117.09 L867.71,118.28 L869.93,119.51 L872.06,120.78 L874.08,122.09 L876.01,123.44 L877.84,124.82 L879.56,126.24 L881.17,127.69 L882.67,129.17 L884.06,130.67 L885.34,132.20 L886.50,133.75 L887.54,135.33 L888.46,136.92 L889.26,138.53 L889.95,140.15 L890.50,141.79 L890.94,143.43 L891.25,145.09 L891.44,146.74 L891.50,148.40 L902.50,148.40 L902.50,148.40 L902.43,146.60 L902.21,144.81 L901.84,143.02 L901.33,141.24 L900.68,139.48 L899.88,137.73 L898.94,135.99 L897.86,134.28 L896.64,132.59 L895.28,130.93 L893.79,129.29 L892.17,127.69 L890.42,126.12 L888.54,124.59 L886.54,123.10 L884.43,121.65 L882.19,120.25 L879.84,118.89 L877.38,117.58 L874.82,116.33 L872.16,115.12 L869.40,113.98 L866.56,112.89 L863.62,111.86 L860.60,110.89 L857.51,109.98 L854.35,109.13 L851.12,108.36 L847.83,107.65 L844.48,107.00 L841.09,106.43 L837.65,105.92 L834.17,105.49 L830.66,105.13 L827.12,104.84 L823.57,104.62 L819.99,104.48 L816.41,104.41 L812.83,104.41 L809.25,104.49 Z" fill="#90a4c0" stroke="none"/>
<path d="M721.50,148.40 L735.29,137.40 L729.79,137.40 L729.79,137.40 L730.56,136.00 L731.42,134.62 L732.37,133.25 L733.41,131.90 L734.54,130.56 L735.75,129.25 L737.05,127.95 L738.44,126.68 L739.91,125.43 L741.46,124.21 L743.09,123.01 L744.79,121.84 L746.58,120.70 L748.43,119.59 L750.36,118.51 L752.36,117.46 L754.43,116.44 L756.56,115.46 L758.76,114.52 L761.01,113.61 L763.33,112.75 L765.70,111.92 L768.12,111.13 L770.60,110.38 L773.12,109.67 L775.69,109.00 L778.30,108.38 L780.95,107.80 L783.63,107.26 L786.35,106.77 L789.11,106.32 L791.88,105.92 L794.69,105.57 L797.51,105.26 L800.36,105.00 L803.22,104.78 L806.09,104.61 L808.97,104.50 L811.86,104.42 L814.75,104.40 L803.75,104.40 L803.75,104.40 L800.86,104.42 L797.97,104.50 L795.09,104.61 L792.22,104.78 L789.36,105.00 L786.51,105.26 L783.69,105.57 L780.88,105.92 L778.11,106.32 L775.35,106.77 L772.63,107.26 L769.95,107.80 L767.30,108.38 L764.69,109.00 L762.12,109.67 L759.60,110.38 L757.12,111.13 L754.70,111.92 L752.33,112.75 L750.01,113.61 L747.76,114.52 L745.56,115.46 L743.43,116.44 L741.36,117.46 L739.36,118.51 L737.43,119.59 L735.58,120.70 L733.79,121.84 L732.09,123.01 L730.46,124.21 L728.91,125.43 L727.44,126.68 L726.05,127.95 L724.75,129.25 L723.54,130.56 L722.41,131.90 L721.37,133.25 L720.42,134.62 L719.56,136.00 L718.79,137.40 L713.29,137.40 Z" fill="#bdd7ee" stroke="none"/>
<path d="M809.25,104.49 L812.55,104.62 L815.83,104.82 L819.10,105.08 L822.34,105.40 L825.56,105.78 L828.75,106.22 L831.91,106.73 L835.02,107.29 L838.09,107.91 L841.11,108.59 L844.07,109.32 L846.98,110.11 L849.83,110.95 L852.61,111.85 L855.32,112.80 L857.96,113.80 L860.52,114.85 L863.01,115.95 L865.40,117.09 L867.71,118.28 L869.93,119.51 L872.06,120.78 L874.08,122.09 L876.01,123.44 L877.84,124.82 L879.56,126.24 L881.17,127.69 L882.67,129.17 L884.06,130.67 L885.34,132.20 L886.50,133.75 L887.54,135.33 L888.46,136.92 L889.26,138.53 L889.95,140.15 L890.50,141.79 L890.94,143.43 L891.25,145.09 L891.44,146.74 L891.50,148.40 L902.50,148.40 L902.50,148.40 L902.43,146.67 L902.23,144.95 L901.89,143.23 L901.42,141.52 L900.81,139.82 L900.08,138.13 L899.21,136.46 L898.21,134.80 L897.08,133.17 L895.82,131.56 L894.44,129.98 L892.94,128.42 L891.31,126.90 L889.57,125.41 L887.71,123.95 L885.74,122.54 L883.66,121.16 L881.48,119.82 L879.19,118.53 L876.80,117.29 L874.31,116.09 L871.74,114.94 L869.08,113.85 L866.33,112.80 L863.50,111.82 L860.60,110.88 L857.63,110.01 L854.59,109.20 L851.49,108.44 L848.33,107.75 L845.12,107.12 L841.87,106.55 L838.57,106.05 L835.23,105.62 L831.87,105.25 L828.48,104.94 L825.06,104.70 L821.63,104.54 L818.20,104.43 L814.75,104.40 L803.75,104.40 L803.75,104.40 L800.86,104.42 L797.97,104.50 L795.09,104.61 L792.22,104.78 L789.36,105.00 L786.51,105.26 L783.69,105.57 L780.88,105.92 L778.11,106.32 L775.35,106.77 L772.63,107.26 L769.95,107.80 L767.30,108.38 L764.69,109.00 L762.12,109.67 L759.60,110.38 L757.12,111.13 L754.70,111.92 L752.33,112.75 L750.01,113.61 L747.76,114.52 L745.56,115.46 L743.43,116.44 L741.36,117.46 L739.36,118.51 L737.43,119.59 L735.58,120.70 L733.79,121.84 L732.09,123.01 L730.46,124.21 L728.91,125.43 L727.44,126.68 L726.05,127.95 L724.75,129.25 L723.54,130.56 L722.41,131.90 L721.37,133.25 L720.42,134.62 L719.56,136.00 L718.79,137.40 L713.29,137.40 L721.50,148.40 L735.29,137.40 L729.79,137.40 L729.79,137.40 L730.56,136.00 L731.42,134.62 L732.37,133.25 L733.41,131.90 L734.54,130.56 L735.75,129.25 L737.05,127.95 L738.44,126.68 L739.91,125.43 L741.46,124.21 L743.09,123.01 L744.79,121.84 L746.58,120.70 L748.43,119.59 L750.36,118.51 L752.36,117.46 L754.43,116.44 L756.56,115.46 L758.76,114.52 L761.01,113.61 L763.33,112.75 L765.70,111.92 L768.12,111.13 L770.60,110.38 L773.12,109.67 L775.69,109.00 L778.30,108.38 L780.95,107.80 L783.63,107.26 L786.35,106.77 L789.11,106.32 L791.88,105.92 L794.69,105.57 L797.51,105.26 L800.36,105.00 L803.22,104.78 L806.09,104.61 L808.97,104.50 L811.86,104.42 L814.75,104.40 " fill="none" stroke="#2f5597" stroke-width="0.9" stroke-linejoin="miter"/>
<text x="247.7" y="126.3" font-family="'Liberation Sans',sans-serif" font-size="19.0" fill="#000" stroke="#000" stroke-width="0.3" text-anchor="middle" textLength="52.6" lengthAdjust="spacingAndGlyphs">Divine</text>
<text x="247.7" y="150.9" font-family="'Liberation Sans',sans-serif" font-size="19.0" fill="#000" stroke="#000" stroke-width="0.3" text-anchor="middle" textLength="38.8" lengthAdjust="spacingAndGlyphs">Love</text>
<text x="527.7" y="126.3" font-family="'Liberation Sans',sans-serif" font-size="19.0" fill="#000" stroke="#000" stroke-width="0.3" text-anchor="middle" textLength="52.6" lengthAdjust="spacingAndGlyphs">Divine</text>
<text x="527.7" y="150.9" font-family="'Liberation Sans',sans-serif" font-size="19.0" fill="#000" stroke="#000" stroke-width="0.3" text-anchor="middle" textLength="38.8" lengthAdjust="spacingAndGlyphs">Love</text>
<text x="809.1" y="126.3" font-family="'Liberation Sans',sans-serif" font-size="19.0" fill="#000" stroke="#000" stroke-width="0.3" text-anchor="middle" textLength="52.6" lengthAdjust="spacingAndGlyphs">Divine</text>
<text x="809.1" y="150.9" font-family="'Liberation Sans',sans-serif" font-size="19.0" fill="#000" stroke="#000" stroke-width="0.3" text-anchor="middle" textLength="38.8" lengthAdjust="spacingAndGlyphs">Love</text>
<path d="M170.62,268.44 L170.44,266.79 L170.45,265.13 L170.65,263.48 L171.02,261.85 L171.58,260.26 L172.32,258.72 L173.22,257.24 L174.29,255.84 L175.50,254.53 L176.86,253.31 L178.35,252.21 L179.96,251.23 L181.67,250.37 L183.47,249.65 L185.34,249.08 L187.26,248.65 L189.23,248.37 L191.22,248.24 L193.21,248.27 L195.19,248.46 L197.15,248.79 L199.05,249.28 L200.90,249.91 L202.66,250.68 L203.32,249.74 L204.07,248.84 L204.89,247.99 L205.80,247.20 L206.77,246.47 L207.81,245.80 L208.91,245.21 L210.05,244.68 L211.25,244.23 L212.48,243.86 L213.74,243.57 L215.03,243.37 L216.33,243.24 L217.64,243.20 L218.95,243.25 L220.25,243.38 L221.54,243.59 L222.80,243.89 L224.03,244.26 L225.22,244.71 L226.37,245.24 L227.46,245.85 L228.50,246.52 L229.46,247.25 L230.03,246.40 L230.68,245.59 L231.41,244.83 L232.21,244.12 L233.09,243.48 L234.02,242.89 L235.01,242.38 L236.05,241.93 L237.13,241.56 L238.25,241.27 L239.39,241.06 L240.55,240.92 L241.71,240.87 L242.88,240.90 L244.04,241.02 L245.19,241.21 L246.31,241.49 L247.40,241.84 L248.45,242.27 L249.45,242.77 L250.40,243.33 L251.29,243.97 L252.11,244.66 L252.86,245.41 L253.85,244.53 L254.93,243.73 L256.10,243.02 L257.35,242.40 L258.66,241.88 L260.02,241.47 L261.42,241.17 L262.85,240.97 L264.30,240.89 L265.75,240.93 L267.19,241.07 L268.61,241.33 L269.99,241.69 L271.32,242.17 L272.59,242.74 L273.80,243.41 L274.92,244.18 L275.95,245.02 L276.88,245.94 L277.70,246.94 L278.41,247.99 L278.99,249.09 L279.44,250.23 L279.77,251.40 L280.92,251.70 L282.04,252.07 L283.13,252.50 L284.18,252.99 L285.18,253.55 L286.13,254.16 L287.03,254.83 L287.87,255.55 L288.65,256.32 L289.35,257.13 L289.99,257.98 L290.55,258.87 L291.04,259.79 L291.44,260.74 L291.77,261.70 L292.01,262.69 L292.16,263.68 L292.23,264.68 L292.22,265.69 L292.12,266.69 L291.93,267.68 L291.66,268.66 L291.30,269.62 L290.87,270.55 L291.94,271.82 L292.87,273.16 L293.66,274.57 L294.31,276.02 L294.79,277.52 L295.12,279.05 L295.29,280.59 L295.30,282.14 L295.14,283.69 L294.83,285.22 L294.35,286.72 L293.73,288.17 L292.95,289.58 L292.03,290.93 L290.97,292.21 L289.78,293.40 L288.47,294.51 L287.05,295.51 L285.53,296.41 L283.93,297.20 L282.25,297.87 L280.50,298.42 L278.70,298.83 L276.87,299.12 L276.79,300.46 L276.56,301.80 L276.19,303.11 L275.69,304.39 L275.05,305.62 L274.28,306.81 L273.39,307.93 L272.38,308.99 L271.26,309.97 L270.05,310.86 L268.74,311.66 L267.36,312.36 L265.90,312.95 L264.39,313.44 L262.84,313.81 L261.25,314.07 L259.63,314.21 L258.01,314.23 L256.40,314.14 L254.80,313.92 L253.23,313.59 L251.70,313.14 L250.22,312.59 L248.81,311.93 L248.14,313.51 L247.29,315.03 L246.27,316.48 L245.09,317.84 L243.77,319.11 L242.31,320.27 L240.72,321.30 L239.03,322.21 L237.24,322.98 L235.37,323.61 L233.44,324.09 L231.47,324.41 L229.46,324.58 L227.45,324.59 L225.44,324.44 L223.46,324.14 L221.52,323.68 L219.64,323.08 L217.84,322.32 L216.13,321.44 L214.53,320.42 L213.06,319.28 L211.71,318.03 L210.51,316.67 L209.10,317.33 L207.63,317.91 L206.12,318.41 L204.57,318.82 L203.00,319.15 L201.40,319.38 L199.78,319.53 L198.16,319.59 L196.54,319.56 L194.92,319.44 L193.32,319.23 L191.74,318.94 L190.18,318.55 L188.66,318.08 L187.17,317.53 L185.74,316.90 L184.36,316.18 L183.04,315.40 L181.78,314.54 L180.59,313.61 L179.48,312.63 L178.46,311.58 L177.51,310.48 L176.66,309.32 L175.26,309.40 L173.85,309.36 L172.46,309.20 L171.10,308.92 L169.77,308.53 L168.50,308.04 L167.30,307.43 L166.18,306.73 L165.15,305.94 L164.22,305.06 L163.40,304.12 L162.71,303.10 L162.14,302.04 L161.70,300.93 L161.40,299.79 L161.25,298.63 L161.23,297.47 L161.36,296.31 L161.63,295.16 L162.04,294.05 L162.58,292.98 L163.25,291.95 L164.05,290.99 L164.95,290.10 L163.75,289.44 L162.64,288.68 L161.62,287.82 L160.72,286.88 L159.95,285.87 L159.30,284.79 L158.79,283.67 L158.42,282.50 L158.21,281.31 L158.14,280.11 L158.22,278.91 L158.45,277.72 L158.83,276.56 L159.35,275.44 L160.01,274.37 L160.80,273.36 L161.71,272.43 L162.73,271.58 L163.85,270.82 L165.06,270.17 L166.34,269.63 L167.69,269.20 L169.08,268.89 L170.50,268.70 Z" fill="#fff" stroke="#2f5597" stroke-width="2.5" stroke-linejoin="round"/>
<path d="M173.13,291.32 L172.30,291.35 L171.46,291.34 L170.63,291.29 L169.80,291.20 L168.97,291.06 L168.17,290.88 L167.37,290.66 L166.59,290.41 L165.83,290.11 L165.10,289.77 M180.22,308.22 L179.88,308.32 L179.54,308.43 L179.19,308.52 L178.84,308.60 L178.49,308.68 L178.14,308.75 L177.78,308.82 L177.43,308.87 L177.07,308.92 L176.71,308.96 M210.51,316.34 L210.26,316.02 L210.01,315.69 L209.78,315.37 L209.56,315.03 L209.34,314.70 L209.13,314.36 L208.93,314.02 L208.74,313.67 L208.56,313.32 L208.39,312.97 M249.67,307.93 L249.63,308.31 L249.58,308.68 L249.51,309.05 L249.44,309.43 L249.36,309.80 L249.27,310.17 L249.18,310.54 L249.07,310.90 L248.95,311.27 L248.82,311.63 M266.48,285.07 L268.28,285.91 L269.96,286.91 L271.49,288.06 L272.86,289.34 L274.04,290.75 L275.03,292.25 L275.81,293.84 L276.36,295.49 L276.69,297.19 L276.79,298.90 M290.80,270.35 L290.48,270.94 L290.12,271.52 L289.74,272.08 L289.32,272.63 L288.87,273.16 L288.39,273.68 L287.89,274.17 L287.35,274.65 L286.80,275.10 L286.21,275.53 M279.79,251.11 L279.84,251.36 L279.88,251.60 L279.92,251.84 L279.95,252.09 L279.98,252.33 L280.00,252.58 L280.02,252.82 L280.03,253.07 L280.03,253.32 L280.03,253.56 M250.46,248.26 L250.65,247.92 L250.85,247.59 L251.05,247.26 L251.27,246.94 L251.50,246.63 L251.75,246.31 L252.00,246.01 L252.26,245.71 L252.53,245.42 L252.82,245.13 M228.47,249.75 L228.54,249.47 L228.63,249.19 L228.72,248.91 L228.82,248.64 L228.93,248.37 L229.05,248.10 L229.18,247.83 L229.31,247.57 L229.46,247.31 L229.60,247.05 M202.65,250.66 L203.09,250.88 L203.53,251.11 L203.96,251.35 L204.39,251.60 L204.80,251.86 L205.21,252.13 L205.62,252.40 L206.01,252.68 L206.39,252.97 L206.77,253.27 M171.34,271.19 L171.24,270.92 L171.15,270.65 L171.07,270.38 L170.99,270.10 L170.91,269.83 L170.84,269.55 L170.78,269.28 L170.72,269.00 L170.67,268.72 L170.62,268.44" fill="none" stroke="#2f5597" stroke-width="2.5" stroke-linecap="round"/>
<path d="M221.42,348.44 L221.24,346.79 L221.25,345.13 L221.45,343.48 L221.82,341.85 L222.38,340.26 L223.12,338.72 L224.02,337.24 L225.09,335.84 L226.30,334.53 L227.66,333.31 L229.15,332.21 L230.76,331.23 L232.47,330.37 L234.27,329.65 L236.14,329.08 L238.06,328.65 L240.03,328.37 L242.02,328.24 L244.01,328.27 L245.99,328.46 L247.95,328.79 L249.85,329.28 L251.70,329.91 L253.46,330.68 L254.12,329.74 L254.87,328.84 L255.69,327.99 L256.60,327.20 L257.57,326.47 L258.61,325.80 L259.71,325.21 L260.85,324.68 L262.05,324.23 L263.28,323.86 L264.54,323.57 L265.83,323.37 L267.13,323.24 L268.44,323.20 L269.75,323.25 L271.05,323.38 L272.34,323.59 L273.60,323.89 L274.83,324.26 L276.02,324.71 L277.17,325.24 L278.26,325.85 L279.30,326.52 L280.26,327.25 L280.83,326.40 L281.48,325.59 L282.21,324.83 L283.01,324.12 L283.89,323.48 L284.82,322.89 L285.81,322.38 L286.85,321.93 L287.93,321.56 L289.05,321.27 L290.19,321.06 L291.35,320.92 L292.51,320.87 L293.68,320.90 L294.84,321.02 L295.99,321.21 L297.11,321.49 L298.20,321.84 L299.25,322.27 L300.25,322.77 L301.20,323.33 L302.09,323.97 L302.91,324.66 L303.66,325.41 L304.65,324.53 L305.73,323.73 L306.90,323.02 L308.15,322.40 L309.46,321.88 L310.82,321.47 L312.22,321.17 L313.65,320.97 L315.10,320.89 L316.55,320.93 L317.99,321.07 L319.41,321.33 L320.79,321.69 L322.12,322.17 L323.39,322.74 L324.60,323.41 L325.72,324.18 L326.75,325.02 L327.68,325.94 L328.50,326.94 L329.21,327.99 L329.79,329.09 L330.24,330.23 L330.57,331.40 L331.72,331.70 L332.84,332.07 L333.93,332.50 L334.98,332.99 L335.98,333.55 L336.93,334.16 L337.83,334.83 L338.67,335.55 L339.45,336.32 L340.15,337.13 L340.79,337.98 L341.35,338.87 L341.84,339.79 L342.24,340.74 L342.57,341.70 L342.81,342.69 L342.96,343.68 L343.03,344.68 L343.02,345.69 L342.92,346.69 L342.73,347.68 L342.46,348.66 L342.10,349.62 L341.67,350.55 L342.74,351.82 L343.67,353.16 L344.46,354.57 L345.11,356.02 L345.59,357.52 L345.92,359.05 L346.09,360.59 L346.10,362.14 L345.94,363.69 L345.63,365.22 L345.15,366.72 L344.53,368.17 L343.75,369.58 L342.83,370.93 L341.77,372.21 L340.58,373.40 L339.27,374.51 L337.85,375.51 L336.33,376.41 L334.73,377.20 L333.05,377.87 L331.30,378.42 L329.50,378.83 L327.67,379.12 L327.59,380.46 L327.36,381.80 L326.99,383.11 L326.49,384.39 L325.85,385.62 L325.08,386.81 L324.19,387.93 L323.18,388.99 L322.06,389.97 L320.85,390.86 L319.54,391.66 L318.16,392.36 L316.70,392.95 L315.19,393.44 L313.64,393.81 L312.05,394.07 L310.43,394.21 L308.81,394.23 L307.20,394.14 L305.60,393.92 L304.03,393.59 L302.50,393.14 L301.02,392.59 L299.61,391.93 L298.94,393.51 L298.09,395.03 L297.07,396.48 L295.89,397.84 L294.57,399.11 L293.11,400.27 L291.52,401.30 L289.83,402.21 L288.04,402.98 L286.17,403.61 L284.24,404.09 L282.27,404.41 L280.26,404.58 L278.25,404.59 L276.24,404.44 L274.26,404.14 L272.32,403.68 L270.44,403.08 L268.64,402.32 L266.93,401.44 L265.33,400.42 L263.86,399.28 L262.51,398.03 L261.31,396.67 L259.90,397.33 L258.43,397.91 L256.92,398.41 L255.37,398.82 L253.80,399.15 L252.20,399.38 L250.58,399.53 L248.96,399.59 L247.34,399.56 L245.72,399.44 L244.12,399.23 L242.54,398.94 L240.98,398.55 L239.46,398.08 L237.97,397.53 L236.54,396.90 L235.16,396.18 L233.84,395.40 L232.58,394.54 L231.39,393.61 L230.28,392.63 L229.26,391.58 L228.31,390.48 L227.46,389.32 L226.06,389.40 L224.65,389.36 L223.26,389.20 L221.90,388.92 L220.57,388.53 L219.30,388.04 L218.10,387.43 L216.98,386.73 L215.95,385.94 L215.02,385.06 L214.20,384.12 L213.51,383.10 L212.94,382.04 L212.50,380.93 L212.20,379.79 L212.05,378.63 L212.03,377.47 L212.16,376.31 L212.43,375.16 L212.84,374.05 L213.38,372.98 L214.05,371.95 L214.85,370.99 L215.75,370.10 L214.55,369.44 L213.44,368.68 L212.42,367.82 L211.52,366.88 L210.75,365.87 L210.10,364.79 L209.59,363.67 L209.22,362.50 L209.01,361.31 L208.94,360.11 L209.02,358.91 L209.25,357.72 L209.63,356.56 L210.15,355.44 L210.81,354.37 L211.60,353.36 L212.51,352.43 L213.53,351.58 L214.65,350.82 L215.86,350.17 L217.14,349.63 L218.49,349.20 L219.88,348.89 L221.30,348.70 Z" fill="#fff" stroke="#2f5597" stroke-width="2.5" stroke-linejoin="round"/>
<path d="M223.93,371.32 L223.10,371.35 L222.26,371.34 L221.43,371.29 L220.60,371.20 L219.77,371.06 L218.97,370.88 L218.17,370.66 L217.39,370.41 L216.63,370.11 L215.90,369.77 M231.02,388.22 L230.68,388.32 L230.34,388.43 L229.99,388.52 L229.64,388.60 L229.29,388.68 L228.94,388.75 L228.58,388.82 L228.23,388.87 L227.87,388.92 L227.51,388.96 M261.31,396.34 L261.06,396.02 L260.81,395.69 L260.58,395.37 L260.36,395.03 L260.14,394.70 L259.93,394.36 L259.73,394.02 L259.54,393.67 L259.36,393.32 L259.19,392.97 M300.47,387.93 L300.43,388.31 L300.38,388.68 L300.31,389.05 L300.24,389.43 L300.16,389.80 L300.07,390.17 L299.98,390.54 L299.87,390.90 L299.75,391.27 L299.62,391.63 M317.28,365.07 L319.08,365.91 L320.76,366.91 L322.29,368.06 L323.66,369.34 L324.84,370.75 L325.83,372.25 L326.61,373.84 L327.16,375.49 L327.49,377.19 L327.59,378.90 M341.60,350.35 L341.28,350.94 L340.92,351.52 L340.54,352.08 L340.12,352.63 L339.67,353.16 L339.19,353.68 L338.69,354.17 L338.15,354.65 L337.60,355.10 L337.01,355.53 M330.59,331.11 L330.64,331.36 L330.68,331.60 L330.72,331.84 L330.75,332.09 L330.78,332.33 L330.80,332.58 L330.82,332.82 L330.83,333.07 L330.83,333.32 L330.83,333.56 M301.26,328.26 L301.45,327.92 L301.65,327.59 L301.85,327.26 L302.07,326.94 L302.30,326.63 L302.55,326.31 L302.80,326.01 L303.06,325.71 L303.33,325.42 L303.62,325.13 M279.27,329.75 L279.34,329.47 L279.43,329.19 L279.52,328.91 L279.62,328.64 L279.73,328.37 L279.85,328.10 L279.98,327.83 L280.11,327.57 L280.26,327.31 L280.40,327.05 M253.45,330.66 L253.89,330.88 L254.33,331.11 L254.76,331.35 L255.19,331.60 L255.60,331.86 L256.01,332.13 L256.42,332.40 L256.81,332.68 L257.19,332.97 L257.57,333.27 M222.14,351.19 L222.04,350.92 L221.95,350.65 L221.87,350.38 L221.79,350.10 L221.71,349.83 L221.64,349.55 L221.58,349.28 L221.52,349.00 L221.47,348.72 L221.42,348.44" fill="none" stroke="#2f5597" stroke-width="2.5" stroke-linecap="round"/>
<path d="M452.92,348.71 L452.74,347.04 L452.75,345.37 L452.95,343.70 L453.32,342.06 L453.88,340.45 L454.62,338.89 L455.52,337.40 L456.59,335.99 L457.80,334.66 L459.16,333.43 L460.65,332.32 L462.26,331.33 L463.97,330.47 L465.77,329.74 L467.64,329.16 L469.56,328.72 L471.53,328.44 L473.52,328.32 L475.51,328.35 L477.49,328.53 L479.45,328.87 L481.35,329.36 L483.20,330.00 L484.96,330.78 L485.62,329.82 L486.37,328.92 L487.19,328.06 L488.10,327.26 L489.07,326.53 L490.11,325.85 L491.21,325.25 L492.35,324.72 L493.55,324.27 L494.78,323.90 L496.04,323.60 L497.33,323.39 L498.63,323.27 L499.94,323.23 L501.25,323.27 L502.55,323.40 L503.84,323.62 L505.10,323.92 L506.33,324.30 L507.52,324.75 L508.67,325.29 L509.76,325.90 L510.80,326.57 L511.76,327.31 L512.33,326.45 L512.98,325.64 L513.71,324.87 L514.51,324.16 L515.39,323.50 L516.32,322.91 L517.31,322.39 L518.35,321.95 L519.43,321.57 L520.55,321.28 L521.69,321.06 L522.85,320.93 L524.01,320.88 L525.18,320.91 L526.34,321.02 L527.49,321.22 L528.61,321.50 L529.70,321.85 L530.75,322.28 L531.75,322.79 L532.70,323.36 L533.59,324.00 L534.41,324.70 L535.16,325.45 L536.15,324.56 L537.23,323.76 L538.40,323.04 L539.65,322.42 L540.96,321.90 L542.32,321.48 L543.72,321.17 L545.15,320.98 L546.60,320.90 L548.05,320.93 L549.49,321.08 L550.91,321.34 L552.29,321.71 L553.62,322.18 L554.89,322.76 L556.10,323.44 L557.22,324.21 L558.25,325.06 L559.18,326.00 L560.00,327.00 L560.71,328.06 L561.29,329.17 L561.74,330.32 L562.07,331.51 L563.22,331.81 L564.34,332.18 L565.43,332.61 L566.48,333.11 L567.48,333.67 L568.43,334.29 L569.33,334.97 L570.17,335.69 L570.95,336.47 L571.65,337.29 L572.29,338.15 L572.85,339.05 L573.34,339.97 L573.74,340.93 L574.07,341.90 L574.31,342.90 L574.46,343.90 L574.53,344.91 L574.52,345.93 L574.42,346.94 L574.23,347.94 L573.96,348.93 L573.60,349.89 L573.17,350.84 L574.24,352.12 L575.17,353.48 L575.96,354.89 L576.61,356.36 L577.09,357.87 L577.42,359.41 L577.59,360.97 L577.60,362.54 L577.44,364.10 L577.13,365.64 L576.65,367.16 L576.03,368.63 L575.25,370.05 L574.33,371.41 L573.27,372.70 L572.08,373.91 L570.77,375.02 L569.35,376.04 L567.83,376.95 L566.23,377.74 L564.55,378.42 L562.80,378.97 L561.00,379.39 L559.17,379.68 L559.09,381.04 L558.86,382.38 L558.49,383.71 L557.99,385.00 L557.35,386.25 L556.58,387.44 L555.69,388.58 L554.68,389.64 L553.56,390.63 L552.35,391.53 L551.04,392.33 L549.66,393.04 L548.20,393.64 L546.69,394.13 L545.14,394.51 L543.55,394.77 L541.93,394.91 L540.31,394.94 L538.70,394.84 L537.10,394.62 L535.53,394.29 L534.00,393.84 L532.52,393.28 L531.11,392.61 L530.44,394.21 L529.59,395.74 L528.57,397.21 L527.39,398.58 L526.07,399.86 L524.61,401.03 L523.02,402.07 L521.33,402.99 L519.54,403.77 L517.67,404.40 L515.74,404.88 L513.77,405.21 L511.76,405.38 L509.75,405.39 L507.74,405.25 L505.76,404.94 L503.82,404.48 L501.94,403.86 L500.14,403.11 L498.43,402.21 L496.83,401.18 L495.36,400.03 L494.01,398.77 L492.81,397.40 L491.40,398.07 L489.93,398.65 L488.42,399.15 L486.87,399.57 L485.30,399.90 L483.70,400.14 L482.08,400.29 L480.46,400.35 L478.84,400.32 L477.22,400.20 L475.62,399.98 L474.04,399.68 L472.48,399.30 L470.96,398.82 L469.47,398.26 L468.04,397.62 L466.66,396.91 L465.34,396.11 L464.08,395.25 L462.89,394.31 L461.78,393.31 L460.76,392.26 L459.81,391.14 L458.96,389.98 L457.56,390.06 L456.15,390.02 L454.76,389.85 L453.40,389.58 L452.07,389.18 L450.80,388.68 L449.60,388.07 L448.48,387.36 L447.45,386.56 L446.52,385.68 L445.70,384.72 L445.01,383.70 L444.44,382.63 L444.00,381.51 L443.70,380.36 L443.55,379.19 L443.53,378.01 L443.66,376.84 L443.93,375.69 L444.34,374.56 L444.88,373.48 L445.55,372.44 L446.35,371.47 L447.25,370.57 L446.05,369.90 L444.94,369.13 L443.92,368.27 L443.02,367.32 L442.25,366.30 L441.60,365.21 L441.09,364.08 L440.72,362.90 L440.51,361.70 L440.44,360.49 L440.52,359.27 L440.75,358.07 L441.13,356.90 L441.65,355.77 L442.31,354.69 L443.10,353.67 L444.01,352.73 L445.03,351.87 L446.15,351.11 L447.36,350.45 L448.64,349.90 L449.99,349.47 L451.38,349.16 L452.80,348.97 Z" fill="#fff" stroke="#2f5597" stroke-width="2.5" stroke-linejoin="round"/>
<path d="M455.43,371.80 L454.60,371.84 L453.76,371.83 L452.93,371.77 L452.10,371.68 L451.27,371.54 L450.47,371.36 L449.67,371.14 L448.89,370.88 L448.13,370.58 L447.40,370.24 M462.52,388.86 L462.18,388.97 L461.84,389.07 L461.49,389.17 L461.14,389.25 L460.79,389.33 L460.44,389.40 L460.08,389.47 L459.73,389.52 L459.37,389.57 L459.01,389.61 M492.81,397.06 L492.56,396.74 L492.31,396.41 L492.08,396.08 L491.86,395.75 L491.64,395.41 L491.43,395.06 L491.23,394.72 L491.04,394.37 L490.86,394.01 L490.69,393.66 M531.97,388.57 L531.93,388.95 L531.88,389.33 L531.81,389.71 L531.74,390.08 L531.66,390.46 L531.57,390.83 L531.48,391.20 L531.37,391.57 L531.25,391.94 L531.12,392.31 M548.78,365.50 L550.58,366.34 L552.26,367.35 L553.79,368.51 L555.16,369.81 L556.34,371.23 L557.33,372.75 L558.11,374.35 L558.66,376.02 L558.99,377.73 L559.09,379.46 M573.10,350.63 L572.78,351.23 L572.42,351.81 L572.04,352.38 L571.62,352.94 L571.17,353.47 L570.69,353.99 L570.19,354.49 L569.65,354.97 L569.10,355.43 L568.51,355.87 M562.09,331.21 L562.14,331.46 L562.18,331.70 L562.22,331.95 L562.25,332.20 L562.28,332.44 L562.30,332.69 L562.32,332.94 L562.33,333.19 L562.33,333.44 L562.33,333.69 M532.76,328.33 L532.95,327.99 L533.15,327.66 L533.35,327.33 L533.57,327.00 L533.80,326.68 L534.05,326.37 L534.30,326.06 L534.56,325.76 L534.83,325.47 L535.12,325.18 M510.77,329.83 L510.84,329.55 L510.93,329.27 L511.02,328.99 L511.12,328.72 L511.23,328.44 L511.35,328.17 L511.48,327.90 L511.61,327.64 L511.76,327.37 L511.90,327.11 M484.95,330.76 L485.39,330.98 L485.83,331.21 L486.26,331.46 L486.69,331.71 L487.10,331.97 L487.51,332.24 L487.92,332.51 L488.31,332.80 L488.69,333.09 L489.07,333.39 M453.64,351.48 L453.54,351.21 L453.45,350.94 L453.37,350.66 L453.29,350.39 L453.21,350.11 L453.14,349.83 L453.08,349.55 L453.02,349.27 L452.97,348.99 L452.92,348.71" fill="none" stroke="#2f5597" stroke-width="2.5" stroke-linecap="round"/>
<text x="221.2" y="287.5" font-family="'Liberation Sans',sans-serif" font-size="19.0" fill="#000" stroke="#000" stroke-width="0.3" text-anchor="middle" textLength="40.7" lengthAdjust="spacingAndGlyphs">Seed</text>
<text x="272.5" y="367.5" font-family="'Liberation Sans',sans-serif" font-size="19.0" fill="#000" stroke="#000" stroke-width="0.3" text-anchor="middle" textLength="37.9" lengthAdjust="spacingAndGlyphs">Fruit</text>
<text x="503.4" y="367.5" font-family="'Liberation Sans',sans-serif" font-size="19.0" fill="#000" stroke="#000" stroke-width="0.3" text-anchor="middle" textLength="39.8" lengthAdjust="spacingAndGlyphs">Seed</text>
<path d="M189.70,320.30 L133.19,462.01" stroke="#4472c4" stroke-width="3.1" fill="none"/>
<path d="M130.00,470.00 L129.10,459.30 L138.01,462.86 Z" fill="#4472c4"/>
<path d="M298.60,388.00 L357.59,460.91" stroke="#4472c4" stroke-width="3.1" fill="none"/>
<path d="M363.00,467.60 L353.23,463.16 L360.69,457.12 Z" fill="#4472c4"/>
<path d="M464.60,388.00 L417.19,460.79" stroke="#4472c4" stroke-width="3.1" fill="none"/>
<path d="M412.50,468.00 L413.72,457.34 L421.76,462.58 Z" fill="#4472c4"/>
<text x="107.65" y="55.5" font-family="'Liberation Serif',serif" font-size="36.3" fill="#002060" stroke="#002060" stroke-width="0.4" text-anchor="middle">Another</text>
<text x="384.1" y="55.5" font-family="'Liberation Serif',serif" font-size="36.3" fill="#002060" stroke="#002060" stroke-width="0.4" text-anchor="middle">You</text>
<text x="668.8" y="55.5" font-family="'Liberation Serif',serif" font-size="36.3" fill="#002060" stroke="#002060" stroke-width="0.4" text-anchor="middle">Son</text>
<text x="938.5" y="55.5" font-family="'Liberation Serif',serif" font-size="36.3" fill="#002060" stroke="#002060" stroke-width="0.4" text-anchor="middle">Father</text>
</svg>
</body></html>
